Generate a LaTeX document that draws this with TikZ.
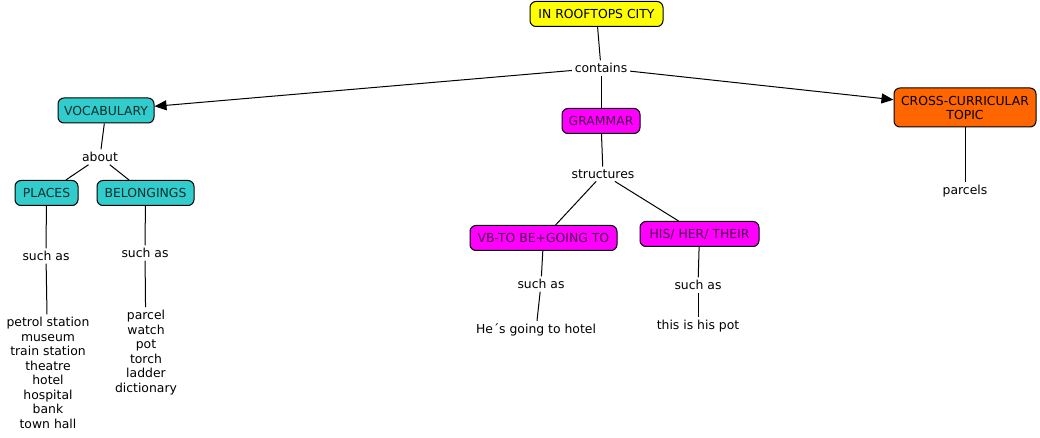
\documentclass[tikz,border=0pt]{standalone}
\usepackage{fontspec}
\setmainfont{DejaVu Sans}
\usetikzlibrary{arrows.meta}
\definecolor{cyanbox}{HTML}{33CCCC}
\definecolor{magbox}{HTML}{FF00FF}
\definecolor{orangebox}{HTML}{FF6600}
\definecolor{yellowbox}{HTML}{FFFF00}
\definecolor{magtext}{HTML}{4A004A}
\definecolor{cyantext}{HTML}{0A2E2E}
\tikzset{
  concept/.style={draw=black, line width=0.75pt, rounded corners=4.5pt, inner xsep=4pt, inner ysep=0pt, minimum height=18.75pt, font=\fontsize{9.3}{11}\selectfont, align=center},
  linklabel/.style={inner sep=2pt, font=\fontsize{9.3}{11}\selectfont, align=center},
  listtext/.style={inner sep=2pt, font=\fontsize{9.3}{10.9}\selectfont, align=center},
  conn/.style={line width=0.75pt},
  arrowconn/.style={line width=0.75pt, -{Triangle[length=9pt,width=7.5pt]}}
}
\begin{document}
\begin{tikzpicture}[x=0.75pt,y=-0.75pt]
\useasboundingbox (0,0) rectangle (1040,438);
% concepts
\node[concept, fill=yellowbox, minimum width=99.75pt] (root) at (596.5,14) {IN ROOFTOPS CITY};
\node[concept, fill=cyanbox, text=cyantext, minimum width=72pt] (vocab) at (106,110.5) {VOCABULARY};
\node[concept, fill=magbox, text=magtext, minimum width=58.5pt] (gram) at (601,121) {GRAMMAR};
\node[concept, fill=orangebox, minimum width=106.5pt, minimum height=29.25pt, font=\fontsize{9.3}{10.5}\selectfont] (cross) at (965,107.5) {CROSS-CURRICULAR\\TOPIC};
\node[concept, fill=cyanbox, text=cyantext, minimum width=47.25pt] (places) at (46.5,193) {PLACES};
\node[concept, fill=cyanbox, text=cyantext, minimum width=72.75pt] (belong) at (145.5,193) {BELONGINGS};
\node[concept, fill=magbox, text=magtext, minimum width=110.25pt] (vb) at (543.5,238) {VB-TO BE+GOING TO};
\node[concept, fill=magbox, text=magtext, minimum width=89.25pt] (his) at (699.5,234) {HIS/ HER/ THEIR};
% linking phrases
\node[linklabel] (contains) at (601,68) {contains};
\node[linklabel] (about) at (100,157) {about};
\node[linklabel] (such1) at (46,256) {such as};
\node[linklabel] (such2) at (145,253) {such as};
\node[linklabel] (struct) at (603,174) {structures};
\node[linklabel] (such3) at (541,284) {such as};
\node[linklabel] (such4) at (698,285) {such as};
% leaf texts
\node[listtext] (list1) at (48,373) {petrol station\\museum\\train station\\theatre\\hotel\\hospital\\bank\\town hall};
\node[listtext] (list2) at (146,352.5) {parcel\\watch\\pot\\torch\\ladder\\dictionary};
\node[linklabel] (hes) at (536,330) {He´s going to hotel};
\node[linklabel] (pot) at (698,326) {this is his pot};
\node[linklabel] (parcels) at (965,191) {parcels};
% connectors
\draw[conn] (root) -- (contains);
\draw[arrowconn] (contains) -- (vocab);
\draw[conn] (contains) -- (gram);
\draw[arrowconn] (contains) -- (cross);
\draw[conn] (vocab) -- (about);
\draw[conn] (about) -- (places);
\draw[conn] (about) -- (belong);
\draw[conn] (places) -- (such1);
\draw[conn] (such1) -- (list1);
\draw[conn] (belong) -- (such2);
\draw[conn] (such2) -- (list2);
\draw[conn] (gram) -- (struct);
\draw[conn] (struct) -- (vb);
\draw[conn] (struct) -- (his);
\draw[conn] (vb) -- (such3);
\draw[conn] (such3) -- (hes);
\draw[conn] (his) -- (such4);
\draw[conn] (such4) -- (pot);
\draw[conn] (cross) -- (parcels);
\end{tikzpicture}
\end{document}
